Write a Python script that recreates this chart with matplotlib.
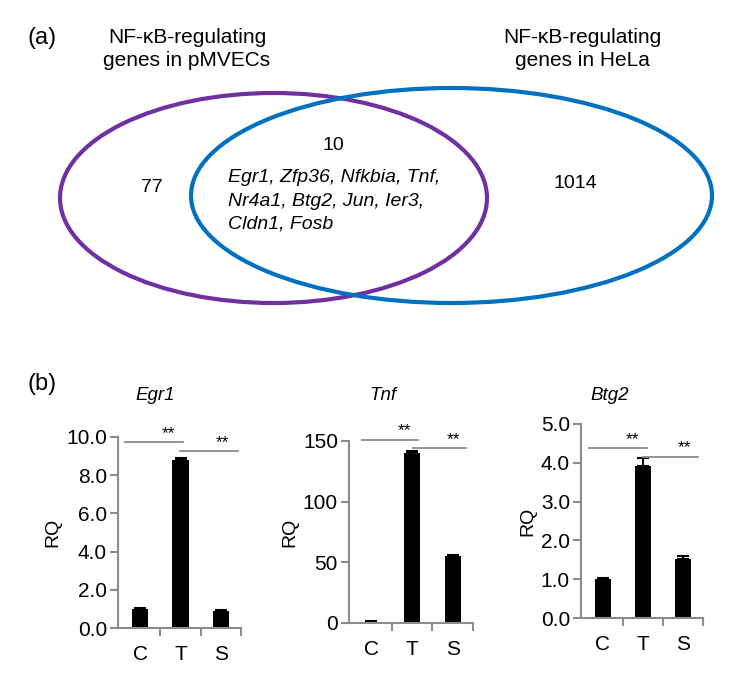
#!/usr/bin/env python3
from matplotlib import pyplot as plt
from matplotlib.patches import Ellipse
import numpy as np

W, H = 746, 683

# Venn counts
set_titles = ["NF-\u03baB-regulating\ngenes in pMVECs", "NF-\u03baB-regulating\ngenes in HeLa"]
only_left, shared, only_right = 77, 10, 1014
shared_genes = [["Egr1", "Zfp36", "Nfkbia", "Tnf"],
                ["Nr4a1", "Btg2", "Jun", "Ier3"],
                ["Cldn1", "Fosb"]]

# qPCR bars
groups = ["C", "T", "S"]
genes = ["Egr1", "Tnf", "Btg2"]
rq = [[1.0, 8.8, 0.9], [1.2, 140.5, 55.5], [1.0, 3.92, 1.52]]
rq_err = [[0.03, 0.12, 0.03], [0.2, 1.2, 0.6], [0.02, 0.2, 0.08]]
ylims = [10.0, 150, 5.0]
yticks = [np.arange(0, 10.1, 2), np.arange(0, 151, 50), np.arange(0, 5.1, 1)]
ytick_fmt = ["{:.1f}", "{:.0f}", "{:.1f}"]
# significance brackets: (x0, x1, y)
sig = [[(-0.38, 1.07, 9.72), (0.98, 2.42, 9.25)],
       [(-0.24, 1.15, 151), (1.02, 2.34, 144)],
       [(-0.34, 1.1, 4.38), (1.0, 2.37, 4.15)]]

PURPLE = "#7030a0"
BLUE = "#0070c0"
SPINE = "#8c8c8c"

plt.rcParams["font.family"] = ["Liberation Sans", "DejaVu Sans"]


def px(x, y):
    return x / W, 1 - y / H


def main():
    fig = plt.figure(figsize=(W / 100, H / 100), dpi=100)

    # (a) venn
    va = fig.add_axes([0, 0, 1, 1])
    va.set_xlim(0, W)
    va.set_ylim(H, 0)
    va.axis("off")
    va.add_patch(Ellipse((273.5, 198), 427, 210, fill=False, ec=PURPLE, lw=3))
    va.add_patch(Ellipse((451.5, 195.5), 521, 215, fill=False, ec=BLUE, lw=3))
    va.text(42, 38, "(a)", fontsize=17, ha="center", va="center")
    va.text(187, 49, set_titles[0], fontsize=15, ha="center", va="center", linespacing=1.3)
    va.text(582, 49, set_titles[1], fontsize=15, ha="center", va="center", linespacing=1.3)
    va.text(152, 188, str(only_left), fontsize=14, ha="center", va="center")
    va.text(333, 146, str(shared), fontsize=14, ha="center", va="center")
    va.text(575, 184, str(only_right), fontsize=14, ha="center", va="center")
    for i, row in enumerate(shared_genes):
        line = ", ".join(row) + ("," if i < 2 else "")
        va.text(228, 178 + 23 * i, line, fontsize=14, style="italic",
                ha="left", va="center")

    fig.text(*px(42, 384), "(b)", fontsize=17, ha="center", va="center")

    boxes = [(118, 241, 437, 628), (349, 473, 441, 623), (581, 703, 424, 618)]
    title_x = [155, 383, 610]
    x = np.arange(len(groups))
    for k in range(3):
        l, r, t, b = boxes[k]
        ax = fig.add_axes([l / W, 1 - b / H, (r - l) / W, (b - t) / H])
        ax.bar(x, rq[k], width=0.4, color="black")
        ax.errorbar(x, rq[k], yerr=[np.zeros(3), rq_err[k]], fmt="none",
                    ecolor="black", elinewidth=1.5, capsize=4, capthick=1.5)
        ax.set_xlim(-0.55, 2.5)
        ax.set_ylim(0, ylims[k])
        ax.set_yticks(yticks[k])
        ax.set_yticklabels([ytick_fmt[k].format(v) for v in yticks[k]])
        ax.set_xticks(x)
        ax.set_xticklabels(groups)
        ax.set_xticks([0.5, 1.5, 2.5], minor=True)
        ax.tick_params(axis="x", which="major", length=0, labelsize=15, pad=12)
        ax.tick_params(axis="x", which="minor", length=6, width=1.5, color=SPINE,
                       direction="out")
        ax.tick_params(axis="y", length=6, width=1.5, color=SPINE, labelsize=15, pad=2)
        for s in ["top", "right"]:
            ax.spines[s].set_visible(False)
        for s in ["left", "bottom"]:
            ax.spines[s].set_color(SPINE)
            ax.spines[s].set_linewidth(1.5)
        ax.set_ylabel("RQ", fontsize=14, labelpad=3)
        for x0, x1, y in sig[k]:
            ax.plot([x0, x1], [y, y], color=SPINE, lw=1.3, clip_on=False)
            ax.annotate("**", ((x0 + x1) / 2 + 0.35, y), xytext=(0, 1),
                        textcoords="offset points", ha="center", va="bottom",
                        fontsize=12.5, annotation_clip=False)
        fig.text(*px(title_x[k], 395), genes[k], fontsize=13.5, style="italic",
                 ha="center", va="center")

    fig.savefig("out.png", dpi=100)


if __name__ == "__main__":
    main()
